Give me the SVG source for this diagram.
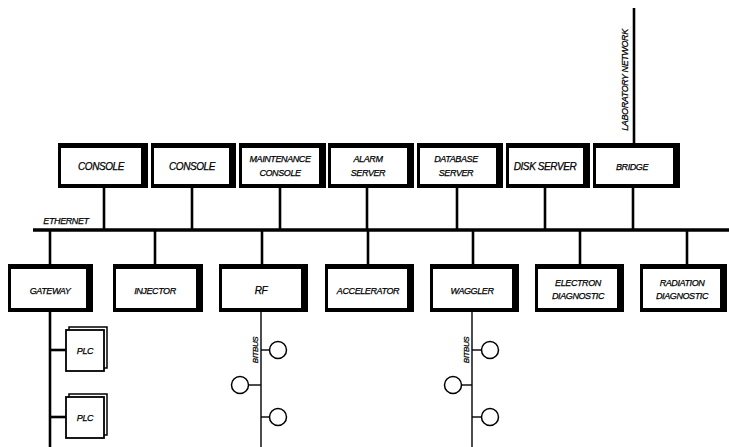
<svg xmlns="http://www.w3.org/2000/svg" width="729" height="447" viewBox="0 0 729 447">
<style>
.lbl{font-family:"Liberation Sans Narrow","Liberation Sans",Arial,sans-serif;font-style:italic;font-size:10px;fill:#000;text-anchor:middle;letter-spacing:-0.4px;stroke:#000;stroke-width:0.25}
.sm{font-size:9px}
.sh{fill:#000}
.in{fill:#fff}
.bus{stroke:#000;stroke-width:3.5;fill:none}
.c{stroke:#000;stroke-width:2.6;fill:none}
.t{stroke:#000;stroke-width:1.4;fill:none}
.circ{stroke:#000;stroke-width:1.5;fill:#fff}
</style>
<rect width="729" height="447" fill="#fff"/>
<g id="connectors">
<line class="bus" x1="33" y1="230" x2="729" y2="230"/>
<line class="c" x1="634" y1="8" x2="634" y2="145"/>
<line class="c" x1="104" y1="186" x2="104" y2="230"/>
<line class="c" x1="192" y1="186" x2="192" y2="230"/>
<line class="c" x1="280" y1="186" x2="280" y2="230"/>
<line class="c" x1="367" y1="186" x2="367" y2="230"/>
<line class="c" x1="457" y1="186" x2="457" y2="230"/>
<line class="c" x1="545" y1="186" x2="545" y2="230"/>
<line class="c" x1="633" y1="186" x2="633" y2="230"/>
<line class="c" x1="50" y1="230" x2="50" y2="266"/>
<line class="c" x1="155" y1="230" x2="155" y2="266"/>
<line class="c" x1="262" y1="230" x2="262" y2="266"/>
<line class="c" x1="368" y1="230" x2="368" y2="266"/>
<line class="c" x1="473" y1="230" x2="473" y2="266"/>
<line class="c" x1="580" y1="230" x2="580" y2="266"/>
<line class="c" x1="687" y1="230" x2="687" y2="266"/>
<line class="c" x1="50" y1="310" x2="50" y2="447"/>
<line class="c" x1="50" y1="350" x2="66" y2="350"/>
<line class="c" x1="50" y1="417" x2="66" y2="417"/>
<line class="t" x1="261" y1="310" x2="261" y2="447"/>
<line class="t" x1="261" y1="350" x2="270" y2="350"/>
<line class="t" x1="248" y1="385" x2="261" y2="385"/>
<line class="t" x1="261" y1="417" x2="270" y2="417"/>
<line class="t" x1="472" y1="310" x2="472" y2="447"/>
<line class="t" x1="472" y1="350" x2="482" y2="350"/>
<line class="t" x1="461" y1="385" x2="472" y2="385"/>
<line class="t" x1="472" y1="417" x2="482" y2="417"/>
</g>
<text class="lbl" x="66" y="224" style="font-size:9px">ETHERNET</text>
<text class="lbl" x="0" y="0" transform="translate(628,80) rotate(-90)" style="font-size:9px">LABORATORY NETWORK</text>
<g id="console1"><rect class="sh" x="58" y="143" width="90" height="45"/><rect class="in" x="61" y="148" width="80" height="36"/><text class="lbl" x="101" y="170">CONSOLE</text></g>
<g id="console2"><rect class="sh" x="151" y="143" width="85" height="45"/><rect class="in" x="154" y="148" width="75" height="36"/><text class="lbl" x="192" y="170">CONSOLE</text></g>
<g id="maintenance"><rect class="sh" x="239" y="143" width="87" height="45"/><rect class="in" x="242" y="148" width="77" height="36"/><text class="lbl sm" x="280" y="162">MAINTENANCE</text><text class="lbl sm" x="280" y="176">CONSOLE</text></g>
<g id="alarm"><rect class="sh" x="328" y="143" width="86" height="45"/><rect class="in" x="331" y="148" width="76" height="36"/><text class="lbl sm" x="368" y="162">ALARM</text><text class="lbl sm" x="368" y="176">SERVER</text></g>
<g id="database"><rect class="sh" x="417" y="143" width="86" height="45"/><rect class="in" x="420" y="148" width="76" height="36"/><text class="lbl sm" x="456" y="162">DATABASE</text><text class="lbl sm" x="456" y="176">SERVER</text></g>
<g id="disk"><rect class="sh" x="506" y="143" width="84" height="45"/><rect class="in" x="509" y="148" width="74" height="36"/><text class="lbl" x="545" y="170">DISK SERVER</text></g>
<g id="bridge"><rect class="sh" x="593" y="143" width="87" height="45"/><rect class="in" x="596" y="148" width="77" height="36"/><text class="lbl sm" x="632" y="170">BRIDGE</text></g>
<g id="gateway"><rect class="sh" x="8" y="264" width="85" height="48"/><rect class="in" x="11" y="269" width="75" height="39"/><text class="lbl sm" x="50" y="294">GATEWAY</text></g>
<g id="injector"><rect class="sh" x="113" y="264" width="90" height="48"/><rect class="in" x="116" y="269" width="80" height="39"/><text class="lbl sm" x="155" y="294">INJECTOR</text></g>
<g id="rf"><rect class="sh" x="219" y="264" width="89" height="48"/><rect class="in" x="222" y="269" width="79" height="39"/><text class="lbl" x="261" y="294">RF</text></g>
<g id="accelerator"><rect class="sh" x="325" y="264" width="89" height="48"/><rect class="in" x="328" y="269" width="79" height="39"/><text class="lbl sm" x="368" y="294">ACCELERATOR</text></g>
<g id="waggler"><rect class="sh" x="430" y="264" width="89" height="48"/><rect class="in" x="433" y="269" width="79" height="39"/><text class="lbl sm" x="472" y="294">WAGGLER</text></g>
<g id="electron"><rect class="sh" x="535" y="264" width="89" height="48"/><rect class="in" x="538" y="269" width="79" height="39"/><text class="lbl sm" x="578" y="286">ELECTRON</text><text class="lbl sm" x="578" y="299">DIAGNOSTIC</text></g>
<g id="radiation"><rect class="sh" x="640" y="264" width="87" height="48"/><rect class="in" x="643" y="269" width="77" height="39"/><text class="lbl sm" x="682" y="286">RADIATION</text><text class="lbl sm" x="682" y="299">DIAGNOSTIC</text></g>
<g id="plc1"><rect x="69" y="327" width="38" height="41" fill="#fff" stroke="#000" stroke-width="1.5"/><rect x="66" y="330" width="38" height="41" fill="#fff" stroke="#000" stroke-width="1.8"/><text class="lbl sm" x="85" y="354">PLC</text></g>
<g id="plc2"><rect x="69" y="394" width="38" height="41" fill="#fff" stroke="#000" stroke-width="1.5"/><rect x="66" y="397" width="38" height="41" fill="#fff" stroke="#000" stroke-width="1.8"/><text class="lbl sm" x="85" y="421">PLC</text></g>
<g id="rf-bitbus"><text class="lbl" x="0" y="0" transform="translate(258,350) rotate(-90)" style="font-size:8px">BITBUS</text><circle class="circ" cx="278" cy="350" r="8.5"/><circle class="circ" cx="240" cy="385" r="8.5"/><circle class="circ" cx="278" cy="417" r="8.5"/></g>
<g id="waggler-bitbus"><text class="lbl" x="0" y="0" transform="translate(469,350) rotate(-90)" style="font-size:8px">BITBUS</text><circle class="circ" cx="490" cy="350" r="8.5"/><circle class="circ" cx="453" cy="385" r="8.5"/><circle class="circ" cx="490" cy="417" r="8.5"/></g>
</svg>
